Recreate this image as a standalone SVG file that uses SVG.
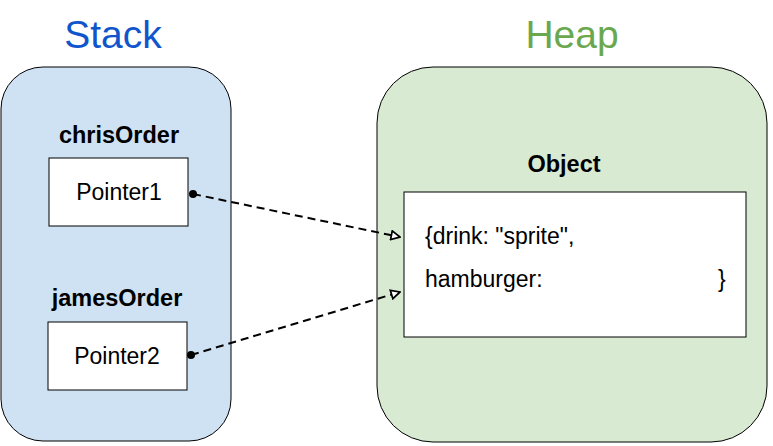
<svg xmlns="http://www.w3.org/2000/svg" width="773" height="446" viewBox="0 0 773 446">
<style>
.title{font-family:"Liberation Sans",Arial,sans-serif;font-size:39px;text-anchor:middle}
.lbl{font-family:"Liberation Sans",Arial,sans-serif;font-size:23.5px;font-weight:bold;text-anchor:middle;fill:#000}
.txt{font-family:"Liberation Sans",Arial,sans-serif;font-size:23px;fill:#000}
.box{fill:#fff;stroke:#000;stroke-width:1}
.conn{fill:none;stroke:#000;stroke-width:2;stroke-dasharray:8,5}
</style>
<defs>
<marker id="arr" viewBox="0 0 10 10" refX="9" refY="5" markerWidth="11" markerHeight="11" markerUnits="userSpaceOnUse" orient="auto">
<path d="M1,1 L9,5 L1,9 Z" fill="#fff" stroke="#000" stroke-width="1.6"/>
</marker>
<marker id="dot" viewBox="0 0 10 10" refX="5" refY="5" markerWidth="8" markerHeight="8" markerUnits="userSpaceOnUse">
<circle cx="5" cy="5" r="5" fill="#000"/>
</marker>
</defs>
<rect width="773" height="446" fill="#fff"/>
<g id="stack">
<text class="title" x="113" y="48" fill="#1155cc">Stack</text>
<rect x="1" y="67" width="230" height="374" rx="42" ry="42" fill="#cfe2f3" stroke="#000" stroke-width="1"/>
</g>
<g id="heap">
<text class="title" x="572" y="48" fill="#6aa84f">Heap</text>
<rect x="377" y="67" width="390" height="375" rx="56" ry="56" fill="#d9ead3" stroke="#000" stroke-width="1"/>
</g>
<g id="chrisOrder">
<text class="lbl" x="119" y="143">chrisOrder</text>
<rect class="box" x="49" y="158" width="139" height="68"/>
<text class="txt" x="119" y="200" text-anchor="middle">Pointer1</text>
</g>
<g id="jamesOrder">
<text class="lbl" x="117" y="306">jamesOrder</text>
<rect class="box" x="48" y="322" width="139" height="68"/>
<text class="txt" x="117" y="364" text-anchor="middle">Pointer2</text>
</g>
<g id="object">
<text class="lbl" x="564" y="172">Object</text>
<rect class="box" x="404" y="192" width="342" height="145"/>
<text class="txt" x="425" y="244">{drink: "sprite",</text>
<text class="txt" x="425" y="287">hamburger:</text>
<text class="txt" x="718" y="287">}</text>
</g>
<g id="connectors">
<path class="conn" d="M193,194 L400,237" marker-start="url(#dot)" marker-end="url(#arr)"/>
<path class="conn" d="M191,355 L400,292" marker-start="url(#dot)" marker-end="url(#arr)"/>
</g>
</svg>
